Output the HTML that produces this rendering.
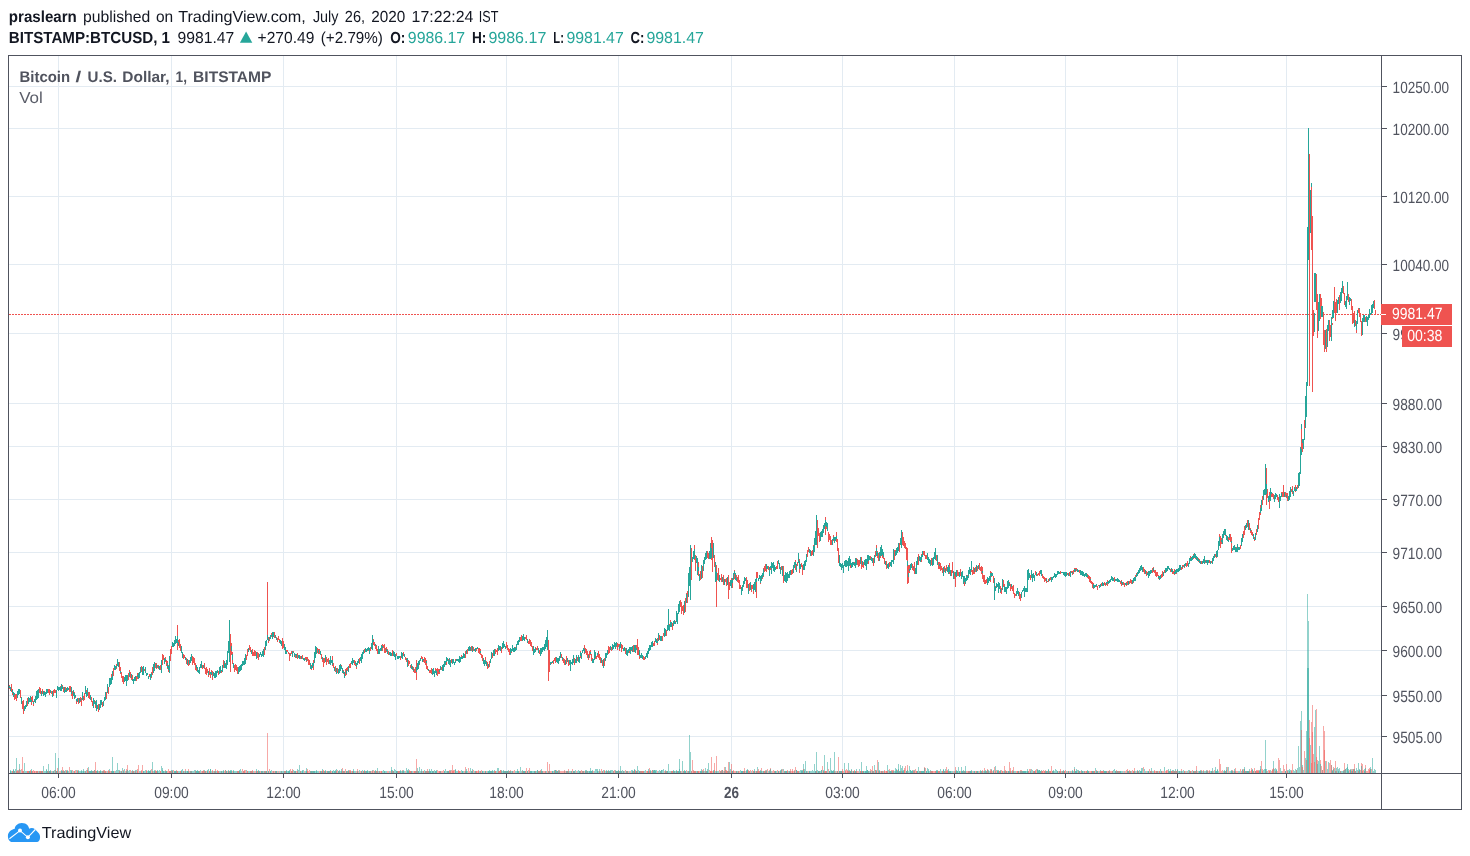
<!DOCTYPE html>
<html><head><meta charset="utf-8"><title>BTCUSD</title>
<style>html,body{margin:0;padding:0;background:#fff}body{width:1470px;height:856px;overflow:hidden}svg{display:block;will-change:transform}text{font-family:"Liberation Sans",sans-serif;text-rendering:geometricPrecision}</style></head><body>
<svg width="1470" height="856" viewBox="0 0 1470 856">
<rect width="1470" height="856" fill="#fff"/>
<path d="M58 55v718M171 55v718M283 55v718M396 55v718M506 55v718M618 55v718M731 55v718M842 55v718M954 55v718M1065 55v718M1177 55v718M1286 55v718M8 86h1373M8 128h1373M8 196h1373M8 264h1373M8 333h1373M8 403h1373M8 446h1373M8 499h1373M8 552h1373M8 606h1373M8 650h1373M8 695h1373M8 736h1373" stroke="#e3ebf2" stroke-width="1" fill="none" shape-rendering="crispEdges" transform="translate(0.5,0.5)"/>
<g shape-rendering="crispEdges" fill="none" stroke-width="1" transform="translate(0.5,0)">
<path d="M10 770v3M11 771v2M13 769v4M15 769v4M16 758v15M18 770v3M19 764v9M20 770v3M23 771v2M24 763v10M25 771v2M26 771v2M29 771v2M31 769v4M36 771v2M38 771v2M39 771v2M43 766v7M44 771v2M45 771v2M46 769v4M48 764v9M49 771v2M50 771v2M52 771v2M54 770v3M55 753v20M56 771v2M58 758v15M61 770v3M63 771v2M65 770v3M67 770v3M68 771v2M70 770v3M71 770v3M73 771v2M76 770v3M78 770v3M79 771v2M80 771v2M81 771v2M82 771v2M83 769v4M84 771v2M85 771v2M86 770v3M88 767v6M89 771v2M90 771v2M91 771v2M93 771v2M96 771v2M97 771v2M98 771v2M99 771v2M100 770v3M101 771v2M102 771v2M105 771v2M107 771v2M109 769v4M112 757v16M113 771v2M115 771v2M116 770v3M117 763v10M118 770v3M119 770v3M120 771v2M121 771v2M122 768v5M124 769v4M128 771v2M129 770v3M131 771v2M132 770v3M133 771v2M134 771v2M135 770v3M136 770v3M139 771v2M140 771v2M143 771v2M144 771v2M145 770v3M147 771v2M148 770v3M149 771v2M150 771v2M152 762v11M153 771v2M154 770v3M155 771v2M157 770v3M158 771v2M159 770v3M161 766v7M162 768v5M163 771v2M164 771v2M166 771v2M170 771v2M171 770v3M172 771v2M174 771v2M175 771v2M178 771v2M179 771v2M181 770v3M182 769v4M183 771v2M184 771v2M186 771v2M187 771v2M192 771v2M193 771v2M194 770v3M195 770v3M196 771v2M197 770v3M198 771v2M199 771v2M200 770v3M202 771v2M204 770v3M207 770v3M208 769v4M210 769v4M211 771v2M213 771v2M214 771v2M216 771v2M219 771v2M220 771v2M222 771v2M223 771v2M225 770v3M226 771v2M228 770v3M229 771v2M230 771v2M231 771v2M233 770v3M234 771v2M235 771v2M236 771v2M237 771v2M239 770v3M240 769v4M241 771v2M243 771v2M246 770v3M248 771v2M249 771v2M250 771v2M251 771v2M253 771v2M256 769v4M258 770v3M261 771v2M263 771v2M264 771v2M265 771v2M266 771v2M268 771v2M270 771v2M271 770v3M273 771v2M276 771v2M278 771v2M280 771v2M282 771v2M283 771v2M284 771v2M285 771v2M286 770v3M287 771v2M288 771v2M289 771v2M291 771v2M293 770v3M295 771v2M297 769v4M298 770v3M299 765v8M300 771v2M301 771v2M302 770v3M303 770v3M305 771v2M306 771v2M311 771v2M313 771v2M314 771v2M315 771v2M316 770v3M317 771v2M318 771v2M320 771v2M322 769v4M325 770v3M328 771v2M330 770v3M332 771v2M333 770v3M334 771v2M335 770v3M336 769v4M338 771v2M340 771v2M341 771v2M344 771v2M346 771v2M347 771v2M348 770v3M351 771v2M353 769v4M354 771v2M355 771v2M359 770v3M362 770v3M364 770v3M365 771v2M366 771v2M367 770v3M368 771v2M372 770v3M374 771v2M375 770v3M376 771v2M377 768v5M378 771v2M379 771v2M382 771v2M383 770v3M384 771v2M385 771v2M386 771v2M389 771v2M391 767v6M392 770v3M394 769v4M395 770v3M396 771v2M399 771v2M400 771v2M401 771v2M403 770v3M404 771v2M406 768v5M407 771v2M408 769v4M412 771v2M415 771v2M417 768v5M418 771v2M419 767v6M420 771v2M422 771v2M424 770v3M426 771v2M427 771v2M428 771v2M429 769v4M430 771v2M431 769v4M432 771v2M434 770v3M435 771v2M436 770v3M444 771v2M445 769v4M446 771v2M448 771v2M450 770v3M455 770v3M456 771v2M457 771v2M461 770v3M462 771v2M463 771v2M466 769v4M467 771v2M470 768v5M472 769v4M474 771v2M479 771v2M480 771v2M482 771v2M483 771v2M485 771v2M487 771v2M488 771v2M489 770v3M490 771v2M492 770v3M493 771v2M494 770v3M496 771v2M497 768v5M498 768v5M502 771v2M503 771v2M505 771v2M507 771v2M509 771v2M511 771v2M515 771v2M516 771v2M517 769v4M518 771v2M520 767v6M521 771v2M522 770v3M523 771v2M524 771v2M525 771v2M527 771v2M529 771v2M530 771v2M531 771v2M532 771v2M533 771v2M534 771v2M535 771v2M536 771v2M537 770v3M538 771v2M539 771v2M540 771v2M541 771v2M545 771v2M546 771v2M548 771v2M552 771v2M553 771v2M554 770v3M555 770v3M557 771v2M558 770v3M564 771v2M568 771v2M569 771v2M570 771v2M573 771v2M575 770v3M577 771v2M578 770v3M579 771v2M580 771v2M582 771v2M585 770v3M588 771v2M589 771v2M590 768v5M591 771v2M594 771v2M595 769v4M596 769v4M597 771v2M598 771v2M599 769v4M600 771v2M602 771v2M603 770v3M605 771v2M606 770v3M607 771v2M608 770v3M610 770v3M611 770v3M612 770v3M613 771v2M616 771v2M618 770v3M619 771v2M620 766v7M622 770v3M624 771v2M629 771v2M631 770v3M632 770v3M633 771v2M634 770v3M636 771v2M637 766v7M638 770v3M639 771v2M640 771v2M641 771v2M643 771v2M644 771v2M645 770v3M648 769v4M650 770v3M652 770v3M653 770v3M654 770v3M655 770v3M656 770v3M658 771v2M659 770v3M661 770v3M662 770v3M663 769v4M666 771v2M667 771v2M668 764v9M669 771v2M670 771v2M671 771v2M673 770v3M675 771v2M676 771v2M677 771v2M678 771v2M679 759v14M682 761v12M683 771v2M684 770v3M685 771v2M687 771v2M688 771v2M689 735v38M690 752v21M691 771v2M694 771v2M696 771v2M700 771v2M701 771v2M702 771v2M704 771v2M705 768v5M707 769v4M708 763v10M713 771v2M715 771v2M717 771v2M718 771v2M720 771v2M721 771v2M725 767v6M727 771v2M729 762v11M730 769v4M732 771v2M737 771v2M738 771v2M740 770v3M741 771v2M742 771v2M746 770v3M747 770v3M749 771v2M751 771v2M753 771v2M754 771v2M757 767v6M759 771v2M760 770v3M762 771v2M768 771v2M771 771v2M774 771v2M775 771v2M776 771v2M778 771v2M780 770v3M783 769v4M784 771v2M785 771v2M786 771v2M788 771v2M790 771v2M796 770v3M797 771v2M799 771v2M800 770v3M801 770v3M802 770v3M803 764v9M804 769v4M805 761v12M807 771v2M809 771v2M810 771v2M811 771v2M812 770v3M813 771v2M814 764v9M815 771v2M816 752v21M817 770v3M818 771v2M820 771v2M821 770v3M823 770v3M824 755v18M826 771v2M827 762v11M829 771v2M830 758v15M831 771v2M832 771v2M833 771v2M834 752v21M835 771v2M839 771v2M841 771v2M844 763v10M848 763v10M849 770v3M850 771v2M853 771v2M855 771v2M856 769v4M859 769v4M861 762v11M863 771v2M864 771v2M865 771v2M866 766v7M867 770v3M869 771v2M873 771v2M874 765v8M876 770v3M878 762v11M879 771v2M883 771v2M887 765v8M888 770v3M890 771v2M894 771v2M895 768v5M896 770v3M898 764v9M900 765v8M901 768v5M902 766v7M903 771v2M906 771v2M908 771v2M909 766v7M910 770v3M911 771v2M912 770v3M913 771v2M914 770v3M917 771v2M918 767v6M920 771v2M921 771v2M922 771v2M923 771v2M926 771v2M927 768v5M928 769v4M929 771v2M930 770v3M931 771v2M936 771v2M937 771v2M939 771v2M940 769v4M941 771v2M943 769v4M945 769v4M948 769v4M950 771v2M951 771v2M952 771v2M954 771v2M956 770v3M957 771v2M958 767v6M959 771v2M961 767v6M962 771v2M965 766v7M968 771v2M969 771v2M970 771v2M971 771v2M973 771v2M974 771v2M976 771v2M977 771v2M978 771v2M980 770v3M983 771v2M985 770v3M987 770v3M989 771v2M991 769v4M993 770v3M995 766v7M997 771v2M998 770v3M1000 770v3M1003 771v2M1008 771v2M1011 771v2M1014 771v2M1015 771v2M1018 771v2M1023 771v2M1024 771v2M1025 771v2M1026 771v2M1027 769v4M1028 771v2M1031 769v4M1032 770v3M1034 771v2M1037 769v4M1038 770v3M1039 770v3M1040 771v2M1041 770v3M1046 771v2M1047 771v2M1048 770v3M1049 771v2M1053 771v2M1054 771v2M1055 769v4M1056 770v3M1057 771v2M1061 771v2M1062 771v2M1063 771v2M1066 771v2M1068 771v2M1070 771v2M1072 770v3M1073 771v2M1074 767v6M1075 771v2M1076 771v2M1077 770v3M1078 770v3M1079 771v2M1082 771v2M1083 771v2M1084 771v2M1087 771v2M1088 771v2M1092 771v2M1095 768v5M1097 771v2M1099 771v2M1100 770v3M1103 770v3M1104 771v2M1105 771v2M1108 771v2M1112 771v2M1113 770v3M1114 769v4M1115 771v2M1116 771v2M1118 771v2M1119 771v2M1120 771v2M1121 771v2M1122 771v2M1124 771v2M1128 771v2M1130 771v2M1131 771v2M1135 771v2M1137 770v3M1138 771v2M1139 770v3M1140 771v2M1141 768v5M1142 768v5M1144 769v4M1145 771v2M1147 771v2M1148 771v2M1150 771v2M1151 768v5M1152 771v2M1153 771v2M1156 771v2M1157 771v2M1158 771v2M1160 769v4M1164 767v6M1169 771v2M1170 769v4M1172 770v3M1173 770v3M1175 769v4M1176 771v2M1178 771v2M1179 771v2M1180 771v2M1182 771v2M1183 770v3M1185 771v2M1187 771v2M1188 770v3M1189 770v3M1191 771v2M1193 771v2M1194 771v2M1195 771v2M1198 771v2M1199 771v2M1200 770v3M1201 771v2M1202 771v2M1203 771v2M1204 771v2M1205 771v2M1209 771v2M1210 771v2M1211 771v2M1212 768v5M1213 771v2M1215 767v6M1216 771v2M1217 769v4M1218 771v2M1223 771v2M1224 770v3M1225 771v2M1226 767v6M1228 767v6M1230 771v2M1231 770v3M1234 769v4M1235 771v2M1238 771v2M1239 771v2M1241 771v2M1244 769v4M1245 771v2M1247 771v2M1248 771v2M1249 769v4M1252 770v3M1253 771v2M1259 771v2M1260 766v7M1263 770v3M1264 769v4M1265 740v33M1266 769v4M1267 771v2M1270 770v3M1273 761v12M1274 769v4M1275 768v5M1276 770v3M1280 768v5M1281 771v2M1285 771v2M1287 770v3M1288 770v3M1289 771v2M1290 770v3M1293 770v3M1294 771v2M1295 769v4M1296 770v3M1297 768v5M1298 746v27M1299 767v6M1300 721v52M1301 711v62M1302 765v8M1303 770v3M1305 758v15M1306 731v42M1307 594v179M1308 621v152M1310 745v28M1314 727v46M1315 710v63M1318 761v12M1319 746v27M1322 770v3M1325 761v12M1327 769v4M1328 762v11M1331 765v8M1332 770v3M1333 769v4M1334 768v5M1336 768v5M1337 767v6M1338 771v2M1339 768v5M1340 771v2M1341 771v2M1342 771v2M1346 768v5M1347 764v9M1348 769v4M1350 770v3M1352 771v2M1355 771v2M1356 768v5M1357 770v3M1358 763v10M1359 770v3M1364 769v4M1370 769v4M1372 758v15M1373 771v2M1374 769v4M1375 770v3" stroke="#26a69a" stroke-opacity=".5"/>
<path d="M12 771v2M14 771v2M17 770v3M21 769v4M22 757v16M27 771v2M28 771v2M30 770v3M32 771v2M33 770v3M34 771v2M35 771v2M37 771v2M40 771v2M41 771v2M42 771v2M47 771v2M51 771v2M53 771v2M57 768v5M59 771v2M60 771v2M62 767v6M64 771v2M66 771v2M69 767v6M72 770v3M74 771v2M75 770v3M77 770v3M87 768v5M92 771v2M94 770v3M95 762v11M103 770v3M104 770v3M106 771v2M108 770v3M110 771v2M111 771v2M114 771v2M123 770v3M125 771v2M126 769v4M127 765v8M130 770v3M137 771v2M138 765v8M141 770v3M142 765v8M146 771v2M151 769v4M156 771v2M160 771v2M165 770v3M167 771v2M168 769v4M169 771v2M173 770v3M176 770v3M177 771v2M180 771v2M185 769v4M188 769v4M189 771v2M190 771v2M191 771v2M201 771v2M203 771v2M205 771v2M206 771v2M209 771v2M212 771v2M215 769v4M217 770v3M218 771v2M221 771v2M224 771v2M227 771v2M232 771v2M238 771v2M242 769v4M244 770v3M245 770v3M247 771v2M252 770v3M254 771v2M255 771v2M257 771v2M259 771v2M260 771v2M262 771v2M267 733v40M269 769v4M272 771v2M274 771v2M275 771v2M277 771v2M279 771v2M281 771v2M290 769v4M292 771v2M294 771v2M296 771v2M304 771v2M307 769v4M308 771v2M309 770v3M310 771v2M312 771v2M319 771v2M321 771v2M323 770v3M324 771v2M326 771v2M327 771v2M329 771v2M331 771v2M337 770v3M339 771v2M342 768v5M343 771v2M345 769v4M349 770v3M350 770v3M352 771v2M356 771v2M357 769v4M358 771v2M360 771v2M361 771v2M363 771v2M369 771v2M370 771v2M371 771v2M373 770v3M380 771v2M381 771v2M387 771v2M388 771v2M390 771v2M393 771v2M397 771v2M398 771v2M402 770v3M405 771v2M409 770v3M410 771v2M411 771v2M413 771v2M414 771v2M416 759v14M421 771v2M423 771v2M425 771v2M433 771v2M437 770v3M438 771v2M439 771v2M440 771v2M441 771v2M442 771v2M443 770v3M447 771v2M449 771v2M451 770v3M452 765v8M453 771v2M454 770v3M458 770v3M459 771v2M460 771v2M464 771v2M465 767v6M468 768v5M469 771v2M471 771v2M473 770v3M475 771v2M476 771v2M477 771v2M478 770v3M481 770v3M484 771v2M486 771v2M491 771v2M495 771v2M499 771v2M500 770v3M501 771v2M504 771v2M506 771v2M508 771v2M510 770v3M512 771v2M513 771v2M514 770v3M519 771v2M526 768v5M528 770v3M542 771v2M543 771v2M544 771v2M547 762v11M549 764v9M550 771v2M551 771v2M556 770v3M559 770v3M560 771v2M561 771v2M562 771v2M563 771v2M565 771v2M566 771v2M567 771v2M571 771v2M572 769v4M574 771v2M576 771v2M581 770v3M583 771v2M584 771v2M586 771v2M587 771v2M592 771v2M593 771v2M601 769v4M604 770v3M609 771v2M614 770v3M615 771v2M617 771v2M621 771v2M623 771v2M625 770v3M626 771v2M627 771v2M628 771v2M630 771v2M635 770v3M642 771v2M646 771v2M647 771v2M649 771v2M651 771v2M657 771v2M660 771v2M664 771v2M665 771v2M672 771v2M674 771v2M680 771v2M681 771v2M686 770v3M692 760v13M693 770v3M695 771v2M697 771v2M698 771v2M699 771v2M703 769v4M706 771v2M709 770v3M710 771v2M711 757v16M712 771v2M714 763v10M716 756v17M719 770v3M722 770v3M723 771v2M724 767v6M726 770v3M728 762v11M731 764v9M733 770v3M734 771v2M735 771v2M736 771v2M739 771v2M743 771v2M744 768v5M745 771v2M748 771v2M750 770v3M752 770v3M755 771v2M756 771v2M758 769v4M761 768v5M763 771v2M764 771v2M765 770v3M766 771v2M767 769v4M769 770v3M770 768v5M772 771v2M773 770v3M777 770v3M779 771v2M781 770v3M782 769v4M787 770v3M789 771v2M791 771v2M792 769v4M793 771v2M794 770v3M795 767v6M798 771v2M806 771v2M808 771v2M819 771v2M822 766v7M825 771v2M828 769v4M836 771v2M837 771v2M838 757v16M840 771v2M842 769v4M843 771v2M845 771v2M846 769v4M847 770v3M851 770v3M852 771v2M854 771v2M857 771v2M858 771v2M860 771v2M862 771v2M868 771v2M870 769v4M871 770v3M872 766v7M875 770v3M877 760v13M880 771v2M881 771v2M882 771v2M884 770v3M885 771v2M886 771v2M889 769v4M891 770v3M892 771v2M893 770v3M897 770v3M899 771v2M904 768v5M905 766v7M907 765v8M915 769v4M916 771v2M919 771v2M924 767v6M925 768v5M932 771v2M933 771v2M934 771v2M935 771v2M938 771v2M942 771v2M944 771v2M946 767v6M947 770v3M949 771v2M953 771v2M955 767v6M960 771v2M963 771v2M964 771v2M966 771v2M967 771v2M972 771v2M975 771v2M979 771v2M981 771v2M982 770v3M984 768v5M986 771v2M988 771v2M990 769v4M992 771v2M994 767v6M996 770v3M999 771v2M1001 770v3M1002 771v2M1004 766v7M1005 771v2M1006 771v2M1007 771v2M1009 762v11M1010 768v5M1012 770v3M1013 767v6M1016 771v2M1017 771v2M1019 771v2M1020 770v3M1021 770v3M1022 771v2M1029 769v4M1030 769v4M1033 771v2M1035 771v2M1036 769v4M1042 771v2M1043 770v3M1044 771v2M1045 770v3M1050 771v2M1051 766v7M1052 771v2M1058 771v2M1059 771v2M1060 771v2M1064 771v2M1065 770v3M1067 771v2M1069 771v2M1071 771v2M1080 771v2M1081 771v2M1085 771v2M1086 771v2M1089 771v2M1090 771v2M1091 771v2M1093 771v2M1094 771v2M1096 770v3M1098 771v2M1101 771v2M1102 771v2M1106 771v2M1107 771v2M1109 770v3M1110 771v2M1111 771v2M1117 771v2M1123 771v2M1125 771v2M1126 770v3M1127 769v4M1129 770v3M1132 770v3M1133 771v2M1134 768v5M1136 771v2M1143 767v6M1146 771v2M1149 769v4M1154 770v3M1155 771v2M1159 771v2M1161 771v2M1162 771v2M1163 771v2M1165 771v2M1166 770v3M1167 770v3M1168 771v2M1171 771v2M1174 771v2M1177 770v3M1181 769v4M1184 771v2M1186 771v2M1190 771v2M1192 770v3M1196 766v7M1197 771v2M1206 771v2M1207 770v3M1208 771v2M1214 770v3M1219 759v14M1220 764v9M1221 771v2M1222 770v3M1227 767v6M1229 771v2M1232 770v3M1233 771v2M1236 771v2M1237 771v2M1240 769v4M1242 770v3M1243 769v4M1246 771v2M1250 771v2M1251 768v5M1254 768v5M1255 771v2M1256 770v3M1257 770v3M1258 770v3M1261 761v12M1262 771v2M1268 770v3M1269 771v2M1271 771v2M1272 770v3M1277 771v2M1278 758v15M1279 760v13M1282 771v2M1283 765v8M1284 769v4M1286 764v9M1291 770v3M1292 764v9M1304 751v22M1309 720v53M1311 722v51M1312 705v68M1313 754v19M1316 709v64M1317 760v13M1320 760v13M1321 766v7M1323 726v47M1324 731v42M1326 761v12M1329 763v10M1330 760v13M1335 761v12M1343 770v3M1344 763v10M1345 769v4M1349 770v3M1351 769v4M1353 769v4M1354 764v9M1360 770v3M1361 763v10M1362 771v2M1363 770v3M1365 765v8M1366 771v2M1367 771v2M1368 769v4M1369 768v5M1371 769v4" stroke="#ef5350" stroke-opacity=".5"/>
<path d="M10 771v2M13 770v3M14 771v2M29 771v2M31 771v2M41 771v2M46 770v3M47 771v2M49 771v2M50 770v3M53 771v2M56 771v2M61 771v2M62 771v2M64 771v2M67 771v2M71 771v2M78 771v2M81 770v3M83 771v2M89 771v2M90 771v2M91 770v3M92 771v2M94 770v3M97 770v3M100 771v2M103 771v2M111 771v2M112 771v2M113 771v2M123 771v2M126 771v2M127 770v3M143 771v2M148 771v2M149 771v2M150 770v3M154 771v2M157 771v2M162 770v3M163 771v2M165 771v2M166 771v2M172 770v3M174 771v2M175 771v2M176 771v2M181 771v2M185 771v2M187 771v2M188 771v2M190 771v2M191 771v2M196 771v2M197 771v2M198 771v2M205 771v2M207 771v2M210 769v4M215 771v2M221 771v2M223 770v3M226 771v2M228 771v2M230 770v3M231 770v3M233 771v2M239 771v2M256 771v2M258 771v2M259 771v2M261 771v2M262 771v2M266 771v2M268 771v2M270 771v2M275 771v2M276 771v2M281 771v2M286 771v2M288 771v2M289 770v3M294 771v2M295 771v2M302 771v2M306 768v5M310 771v2M311 771v2M312 771v2M313 771v2M314 771v2M316 771v2M320 771v2M322 771v2M324 771v2M325 771v2M327 771v2M328 771v2M329 771v2M332 771v2M334 771v2M335 771v2M338 771v2M339 770v3M341 769v4M343 771v2M346 771v2M348 771v2M353 771v2M357 771v2M361 771v2M364 771v2M366 771v2M367 771v2M369 771v2M370 771v2M375 771v2M384 771v2M391 770v3M393 771v2M396 771v2M397 771v2M400 770v3M402 771v2M403 771v2M407 770v3M408 771v2M411 771v2M416 771v2M418 771v2M421 769v4M425 771v2M429 771v2M430 771v2M432 771v2M433 771v2M435 771v2M436 771v2M440 771v2M444 771v2M447 771v2M448 771v2M455 769v4M462 771v2M465 771v2M466 771v2M471 771v2M472 771v2M475 771v2M482 771v2M485 771v2M488 771v2M489 771v2M490 771v2M491 771v2M492 771v2M501 770v3M503 770v3M504 771v2M505 771v2M506 771v2M507 771v2M508 770v3M510 771v2M512 771v2M517 771v2M518 771v2M523 771v2M524 771v2M527 771v2M530 771v2M531 771v2M534 771v2M537 770v3M541 769v4M542 771v2M549 771v2M552 771v2M555 770v3M556 771v2M557 771v2M559 771v2M566 771v2M567 771v2M571 771v2M573 771v2M574 771v2M579 771v2M583 771v2M585 771v2M586 770v3M587 771v2M589 771v2M590 771v2M591 771v2M592 770v3M597 769v4M606 771v2M608 771v2M609 771v2M610 771v2M615 770v3M616 771v2M617 771v2M618 771v2M620 771v2M621 771v2M623 771v2M626 771v2M627 771v2M632 771v2M634 769v4M636 771v2M639 771v2M648 771v2M650 771v2M653 771v2M654 770v3M655 771v2M660 771v2M661 770v3M665 770v3M667 771v2M673 771v2M674 771v2M676 770v3M678 771v2M679 769v4M680 771v2M684 771v2M685 771v2M689 771v2M697 771v2M700 771v2M701 769v4M703 771v2M706 771v2M707 771v2M713 770v3M716 771v2M722 770v3M724 771v2M728 771v2M732 771v2M736 771v2M741 771v2M742 771v2M744 771v2M746 771v2M747 769v4M754 769v4M756 771v2M760 771v2M761 771v2M763 771v2M765 771v2M766 770v3M769 771v2M770 769v4M775 771v2M778 771v2M780 771v2M781 769v4M785 771v2M786 771v2M789 771v2M794 771v2M796 770v3M801 771v2M802 771v2M804 771v2M806 771v2M809 771v2M815 771v2M818 771v2M819 771v2M821 770v3M823 771v2M829 771v2M831 770v3M832 771v2M833 770v3M837 771v2M839 771v2M840 771v2M841 771v2M850 771v2M851 769v4M853 771v2M855 771v2M861 771v2M863 771v2M865 771v2M866 771v2M867 770v3M868 771v2M870 771v2M872 771v2M876 771v2M879 770v3M881 771v2M889 771v2M890 771v2M891 771v2M893 771v2M895 771v2M896 769v4M897 771v2M898 769v4M899 771v2M900 771v2M902 771v2M903 770v3M906 771v2M907 770v3M910 770v3M911 771v2M912 771v2M917 771v2M919 771v2M921 771v2M922 771v2M923 771v2M924 768v5M926 771v2M928 771v2M936 770v3M937 770v3M943 770v3M944 771v2M948 771v2M949 771v2M950 771v2M956 771v2M957 771v2M959 771v2M961 771v2M962 771v2M963 770v3M964 771v2M965 771v2M970 771v2M971 770v3M974 771v2M977 771v2M980 771v2M981 771v2M984 771v2M985 771v2M986 771v2M988 770v3M993 771v2M997 770v3M998 771v2M1000 771v2M1004 771v2M1006 771v2M1008 771v2M1009 771v2M1013 771v2M1018 771v2M1020 771v2M1021 771v2M1022 771v2M1023 771v2M1024 771v2M1025 771v2M1027 771v2M1030 771v2M1034 771v2M1037 770v3M1038 771v2M1039 770v3M1040 771v2M1045 771v2M1046 771v2M1048 769v4M1052 771v2M1053 770v3M1057 771v2M1059 771v2M1063 770v3M1068 771v2M1072 771v2M1075 771v2M1076 769v4M1079 771v2M1081 770v3M1082 771v2M1087 770v3M1088 771v2M1092 771v2M1093 771v2M1096 771v2M1097 771v2M1104 771v2M1105 771v2M1106 771v2M1109 771v2M1115 771v2M1117 771v2M1120 771v2M1127 771v2M1128 771v2M1134 771v2M1137 771v2M1140 771v2M1141 771v2M1148 771v2M1161 771v2M1168 769v4M1169 771v2M1170 771v2M1174 771v2M1177 769v4M1179 771v2M1181 771v2M1193 771v2M1196 770v3M1199 771v2M1200 771v2M1206 770v3M1207 771v2M1211 771v2M1215 771v2M1216 771v2M1217 770v3M1224 771v2M1226 770v3M1231 771v2M1232 771v2M1234 771v2M1242 769v4M1244 767v6M1246 771v2M1247 771v2M1248 771v2M1252 769v4M1255 771v2M1259 770v3M1260 769v4M1265 769v4M1276 769v4M1285 771v2M1289 769v4M1307 668v105M1308 668v105M1317 764v9M1320 764v9M1332 771v2M1335 771v2M1338 769v4M1343 771v2M1344 770v3M1345 769v4M1347 767v6M1348 771v2M1350 769v4M1352 769v4M1354 769v4M1359 769v4M1361 766v7M1364 771v2M1365 768v5M1370 767v6" stroke="#26a69a" stroke-opacity=".5"/>
<path d="M12 771v2M16 771v2M17 771v2M18 771v2M19 769v4M22 771v2M23 771v2M27 771v2M28 771v2M30 771v2M32 771v2M34 771v2M36 771v2M37 771v2M39 771v2M40 771v2M42 771v2M48 771v2M55 770v3M57 771v2M63 770v3M66 770v3M74 771v2M77 771v2M85 771v2M87 770v3M88 771v2M93 771v2M95 771v2M96 771v2M99 771v2M102 771v2M104 771v2M105 771v2M108 771v2M109 771v2M119 771v2M121 771v2M132 771v2M133 771v2M135 771v2M137 769v4M141 771v2M146 770v3M152 771v2M155 770v3M156 771v2M160 771v2M169 771v2M170 771v2M171 771v2M177 771v2M180 771v2M183 771v2M195 771v2M199 771v2M202 771v2M203 770v3M204 771v2M209 771v2M212 770v3M214 771v2M217 771v2M218 771v2M225 770v3M229 771v2M237 771v2M238 771v2M243 771v2M244 771v2M247 771v2M250 771v2M251 771v2M252 771v2M257 771v2M264 771v2M265 771v2M273 771v2M284 771v2M285 771v2M291 771v2M292 769v4M297 771v2M300 771v2M307 771v2M321 771v2M323 771v2M330 771v2M336 771v2M342 771v2M344 771v2M347 771v2M349 771v2M350 771v2M352 771v2M363 771v2M365 771v2M372 771v2M374 771v2M376 771v2M377 771v2M379 771v2M381 771v2M392 771v2M398 771v2M399 771v2M409 771v2M410 771v2M414 771v2M415 771v2M417 771v2M423 771v2M426 771v2M427 769v4M428 771v2M439 771v2M449 770v3M450 771v2M452 771v2M453 770v3M458 771v2M459 771v2M476 771v2M478 771v2M480 771v2M494 771v2M495 771v2M498 771v2M499 771v2M500 770v3M509 771v2M522 771v2M525 771v2M529 768v5M535 771v2M538 771v2M539 771v2M540 770v3M545 771v2M548 771v2M554 771v2M558 771v2M564 770v3M568 769v4M580 771v2M582 771v2M599 771v2M602 771v2M604 771v2M607 771v2M613 771v2M619 771v2M633 771v2M635 771v2M637 771v2M640 771v2M641 771v2M642 771v2M643 771v2M647 771v2M649 768v5M652 770v3M666 771v2M671 771v2M672 771v2M677 771v2M683 771v2M688 771v2M691 771v2M693 771v2M694 771v2M695 771v2M698 771v2M702 770v3M705 771v2M710 771v2M711 771v2M714 770v3M720 771v2M721 770v3M725 770v3M726 771v2M727 771v2M729 771v2M731 771v2M733 771v2M738 771v2M743 771v2M748 770v3M749 771v2M753 771v2M757 771v2M758 771v2M759 771v2M764 771v2M774 771v2M784 771v2M787 771v2M790 769v4M792 771v2M797 771v2M798 771v2M803 769v4M816 771v2M824 771v2M825 771v2M826 771v2M834 771v2M842 771v2M845 770v3M847 771v2M848 771v2M849 771v2M854 770v3M856 771v2M860 771v2M862 771v2M873 771v2M875 770v3M878 771v2M882 771v2M884 771v2M886 771v2M887 771v2M892 770v3M901 771v2M904 770v3M913 770v3M914 771v2M916 771v2M920 771v2M930 771v2M931 771v2M932 771v2M935 771v2M938 771v2M939 771v2M942 771v2M945 771v2M946 771v2M947 771v2M955 771v2M968 771v2M969 771v2M976 771v2M982 771v2M987 769v4M990 771v2M991 770v3M995 771v2M999 771v2M1002 771v2M1005 770v3M1010 771v2M1012 771v2M1017 771v2M1028 771v2M1033 771v2M1035 770v3M1041 771v2M1042 771v2M1044 771v2M1047 771v2M1049 771v2M1050 771v2M1060 769v4M1062 771v2M1064 771v2M1074 769v4M1078 771v2M1084 771v2M1086 771v2M1091 771v2M1094 771v2M1100 771v2M1101 771v2M1102 771v2M1103 771v2M1108 771v2M1112 771v2M1116 770v3M1118 771v2M1119 771v2M1129 771v2M1130 771v2M1133 771v2M1138 771v2M1150 771v2M1151 771v2M1154 771v2M1156 771v2M1157 771v2M1159 771v2M1166 771v2M1171 771v2M1172 771v2M1173 771v2M1175 771v2M1176 771v2M1184 771v2M1189 771v2M1190 771v2M1194 771v2M1195 771v2M1201 770v3M1203 770v3M1209 770v3M1212 771v2M1225 771v2M1235 768v5M1243 771v2M1245 771v2M1249 771v2M1251 770v3M1253 771v2M1256 771v2M1257 771v2M1258 771v2M1262 769v4M1266 771v2M1269 770v3M1272 769v4M1273 768v5M1275 771v2M1287 771v2M1291 771v2M1296 770v3M1301 730v43M1302 767v6M1306 760v13M1309 738v35M1311 763v10M1312 732v41M1314 762v11M1316 757v16M1322 770v3M1324 750v23M1331 765v8M1333 767v6M1336 771v2M1340 771v2M1351 771v2M1353 769v4M1355 771v2M1358 771v2M1362 764v9M1369 770v3" stroke="#ef5350" stroke-opacity=".5"/>
</g>
<path d="M9 314.5H1381" stroke="#ef5350" stroke-width="1" stroke-dasharray="1.5 1.5" fill="none" shape-rendering="crispEdges"/>
<g shape-rendering="crispEdges" fill="none" stroke-width="1" transform="translate(0.5,0)">
<path d="M9 685v4M10 688v3M11 684v8M11 687v1M12 689v6M13 692v4M14 693v7M15 694v5M16 694v7M20 690v8M22 701v8M23 706v8M23 700v12M27 698v8M29 699v2M31 697v8M32 696v6M33 701v5M36 695v3M38 692v3M39 687v6M40 688v6M40 689v4M42 690v4M42 689v4M44 691v3M48 689v4M48 689v2M49 689v6M51 691v3M53 690v6M53 691v3M54 689v4M54 692v1M55 690v3M56 692v3M59 687v3M60 686v5M62 685v3M63 687v5M65 687v5M67 687v4M68 688v1M69 686v6M70 686v6M70 688v2M71 688v8M72 691v8M74 692v7M75 695v3M76 699v5M78 699v5M78 698v6M79 700v2M80 697v5M81 698v8M82 695v2M83 696v5M84 693v7M86 690v5M87 688v7M88 692v6M89 692v7M91 697v5M92 701v5M93 701v4M95 701v7M96 704v5M98 704v8M98 707v3M100 703v4M101 700v2M102 702v5M102 703v3M106 692v7M106 694v2M107 687v3M108 687v7M109 682v3M111 674v7M113 668v8M116 664v5M119 662v9M120 667v7M121 672v6M121 673v4M122 676v6M123 676v8M125 677v4M128 673v7M129 670v7M130 672v6M131 674v6M132 675v6M136 676v5M136 677v4M137 673v6M141 666v6M143 668v4M144 669v2M149 674v3M151 672v6M152 667v8M155 663v5M156 663v6M157 665v3M158 665v4M159 667v3M160 665v5M161 664v4M162 654v11M163 655v5M165 657v5M166 660v6M167 661v8M168 665v7M169 663v5M170 649v12M171 646v8M177 625v25M178 640v6M179 639v9M180 644v7M181 647v6M182 652v4M183 654v5M184 655v3M186 658v6M188 660v6M188 660v2M189 661v4M192 656v9M192 659v2M193 657v6M194 658v7M195 663v7M196 665v6M202 665v4M204 663v6M204 663v4M205 668v6M205 668v5M206 667v8M207 669v4M208 671v6M209 668v7M209 670v5M210 672v6M211 670v5M212 671v9M217 671v1M218 671v4M218 671v3M219 670v2M220 669v1M221 670v3M223 663v5M223 660v7M225 663v5M226 664v3M227 654v5M230 635v13M230 634v38M231 643v12M232 652v12M234 665v7M235 664v6M236 665v6M237 667v7M242 662v3M243 662v1M245 659v1M246 655v5M247 649v7M249 645v5M250 647v5M252 649v7M253 652v4M254 650v6M255 651v5M257 652v6M258 653v7M264 647v8M264 650v2M267 582v58M268 637v6M269 637v4M271 633v4M274 632v6M276 637v2M277 638v4M277 638v4M278 636v4M278 637v3M279 639v4M282 638v11M283 642v5M283 641v7M286 650v3M287 650v2M288 652v2M289 653v4M289 653v8M290 653v3M291 651v3M292 654v2M293 651v2M295 654v4M296 655v2M297 653v6M297 656v2M300 656v3M302 655v4M305 657v3M306 657v5M307 657v4M308 659v6M308 660v2M309 660v5M310 664v4M311 665v5M313 660v10M317 648v5M318 649v5M319 649v5M321 654v5M322 657v5M323 658v9M324 658v5M326 657v8M326 661v1M327 659v3M328 658v6M330 658v5M332 656v10M333 663v5M335 666v6M335 668v3M337 668v5M341 665v4M342 668v3M343 670v4M344 673v3M345 669v7M346 668v7M347 667v4M348 666v4M349 664v4M350 663v5M353 660v3M354 660v5M355 661v5M356 663v6M359 658v6M360 658v3M362 653v3M364 649v4M365 650v2M368 647v4M370 647v4M373 639v6M374 642v4M375 645v4M376 645v6M377 649v5M382 644v7M383 645v3M384 644v9M385 648v5M386 647v5M387 649v5M388 651v4M392 650v6M395 654v4M396 653v3M400 656v4M402 654v2M403 652v4M405 657v3M406 658v4M408 660v6M409 661v3M410 665v3M411 664v3M412 666v4M413 667v5M414 669v4M414 669v2M415 667v6M415 668v4M416 660v20M419 660v5M421 656v3M422 657v4M423 659v3M424 657v6M425 658v7M425 660v1M426 660v9M427 666v4M427 667v2M429 670v3M430 671v2M430 670v1M431 668v6M431 668v5M435 668v4M436 669v5M437 670v6M437 668v7M438 669v5M439 669v5M441 667v3M446 658v7M448 659v3M451 660v2M451 659v4M455 659v4M459 658v3M461 655v4M465 651v7M467 649v5M470 648v2M471 646v5M471 647v4M473 647v4M476 648v3M478 648v5M478 650v2M479 649v5M479 648v6M480 649v6M481 654v4M482 655v6M484 660v4M485 657v7M486 661v3M487 662v7M488 665v3M489 661v6M489 663v2M492 653v5M494 652v2M495 650v4M495 649v4M496 650v2M497 649v2M497 648v7M501 647v6M506 642v6M506 643v5M507 645v5M508 648v4M509 649v6M509 649v2M510 650v3M511 650v3M515 647v4M518 641v3M520 637v4M521 635v6M523 634v4M525 637v2M526 635v5M528 641v3M529 640v4M529 639v4M530 640v6M531 642v5M532 646v5M535 647v5M536 648v2M537 646v4M537 648v2M539 650v4M539 651v3M541 649v2M547 635v14M548 647v17M548 640v41M549 660v4M549 650v22M551 662v2M553 660v4M554 658v3M555 657v6M556 659v3M561 654v4M562 657v4M563 658v5M564 659v6M566 656v8M568 660v6M568 662v1M569 660v5M570 661v5M571 662v2M572 661v1M574 658v7M574 661v2M577 657v4M580 651v7M584 645v9M585 648v5M586 649v6M587 651v7M587 653v4M588 654v6M589 651v7M590 650v5M591 654v7M592 658v4M593 659v4M595 654v5M596 656v3M597 653v4M598 651v7M598 654v2M599 655v5M599 654v4M600 657v6M602 660v6M604 658v5M604 659v7M608 646v8M609 647v6M609 649v2M611 647v4M616 643v4M617 643v7M618 644v3M619 644v7M621 644v8M622 645v4M622 646v1M625 648v6M629 648v5M630 649v2M631 648v3M633 645v6M633 649v3M634 647v3M636 645v4M637 646v7M637 639v16M638 647v8M638 649v3M639 650v9M640 657v1M643 656v4M644 657v3M645 658v1M653 643v3M654 641v5M657 638v7M658 636v2M659 635v5M662 636v5M662 637v2M663 633v3M666 630v6M669 624v5M670 620v6M672 623v7M675 621v3M679 602v4M680 600v7M681 602v12M682 606v5M683 605v7M683 608v7M685 598v14M686 593v4M687 591v12M689 578v2M691 555v4M691 548v32M694 545v15M695 555v16M696 557v4M697 561v8M698 562v14M699 575v4M700 571v9M702 566v12M702 568v9M705 553v3M707 551v7M708 553v6M711 537v23M712 549v9M712 540v32M713 549v4M714 555v12M715 566v13M716 565v42M717 573v6M717 574v6M718 568v13M720 578v2M721 574v8M723 575v10M725 579v3M726 578v8M727 579v5M728 581v7M728 575v24M729 582v8M731 578v10M732 582v6M733 574v6M734 570v9M736 575v5M737 577v5M738 575v8M739 580v9M740 585v4M746 577v11M747 580v8M749 583v8M751 585v7M752 585v4M753 587v7M754 584v4M756 572v26M757 572v6M760 577v7M762 574v5M763 568v9M764 566v6M764 567v3M765 564v7M766 566v6M768 566v4M768 566v3M770 566v4M776 566v3M777 561v8M781 566v4M783 570v8M783 566v17M789 571v3M791 570v4M791 571v4M792 569v5M795 560v10M797 562v4M799 559v14M801 563v4M802 566v6M802 565v10M803 564v3M804 562v5M807 550v7M807 553v4M808 547v5M811 551v5M812 550v5M813 545v11M815 537v3M817 529v7M817 528v9M817 520v28M818 528v7M818 529v7M819 533v9M825 517v18M826 522v7M828 532v10M829 534v6M830 536v9M831 540v4M831 542v3M833 535v6M836 532v10M837 539v12M837 545v2M838 549v11M838 548v15M839 558v7M847 562v3M849 559v6M850 563v5M853 562v3M854 562v3M856 558v7M857 559v5M857 560v5M858 560v7M859 560v6M861 557v12M862 563v4M863 562v6M868 555v9M870 556v4M873 558v8M875 551v6M876 545v8M877 551v7M878 553v8M879 556v2M880 548v10M882 551v7M883 552v7M884 558v6M886 561v8M889 562v5M889 562v4M894 550v10M894 555v4M895 550v6M899 543v9M901 535v6M901 537v2M902 534v8M902 537v3M902 532v13M903 537v9M903 538v4M904 541v7M905 543v6M906 547v13M906 551v4M907 555v19M907 548v36M908 574v3M908 565v18M909 565v8M912 564v6M913 566v5M914 562v12M914 568v3M918 554v11M921 554v8M923 551v3M923 552v3M924 551v5M925 555v4M926 555v4M931 558v7M936 555v6M938 562v7M939 562v7M940 563v8M940 566v5M941 566v4M942 568v5M944 566v6M945 568v4M946 565v6M949 563v11M951 570v6M952 564v9M952 562v9M954 572v7M954 574v5M955 572v15M957 570v6M958 572v4M960 569v7M960 570v4M964 576v10M967 575v4M971 570v2M972 570v5M973 567v7M974 568v6M975 567v5M977 566v5M979 563v7M980 567v4M981 566v8M981 569v3M982 567v12M983 575v7M984 579v5M984 575v9M985 580v4M986 579v4M989 576v5M990 571v11M991 572v5M993 576v7M993 578v4M994 580v11M994 583v6M995 586v5M998 582v9M1000 586v7M1001 588v6M1003 583v4M1003 580v5M1004 584v7M1009 582v4M1010 584v7M1011 585v4M1012 586v5M1013 585v9M1014 593v5M1014 594v4M1015 594v2M1016 592v3M1019 592v7M1020 594v7M1030 575v5M1035 571v4M1037 574v2M1038 573v2M1039 571v5M1040 571v2M1041 572v3M1042 574v4M1043 576v3M1044 577v5M1045 578v3M1046 578v5M1048 579v3M1050 577v3M1053 576v1M1060 571v3M1064 572v4M1065 572v2M1066 572v4M1067 573v2M1068 573v2M1069 572v4M1069 573v2M1070 573v1M1071 571v2M1072 571v4M1073 570v4M1073 571v2M1074 568v4M1075 568v4M1076 568v3M1079 571v2M1079 570v2M1081 572v3M1087 574v4M1088 575v4M1089 576v6M1090 577v6M1091 581v3M1092 582v6M1093 583v6M1094 586v2M1096 584v3M1097 586v4M1098 585v1M1100 585v2M1101 583v3M1104 582v3M1105 583v3M1106 582v2M1107 580v6M1110 580v2M1111 576v3M1113 578v3M1114 577v5M1114 578v3M1120 581v3M1121 580v6M1122 582v3M1123 582v2M1123 582v3M1124 583v4M1125 583v2M1126 582v4M1127 581v4M1128 581v4M1129 581v3M1130 579v4M1130 580v2M1131 580v4M1133 579v4M1135 575v6M1136 573v3M1140 568v1M1143 567v5M1144 569v5M1144 569v2M1146 571v5M1147 572v3M1150 571v2M1152 568v5M1153 567v5M1154 570v3M1155 570v6M1156 572v5M1157 572v4M1158 575v4M1161 574v4M1162 571v6M1164 570v3M1168 566v3M1170 569v3M1171 568v3M1172 569v5M1173 571v3M1174 569v6M1176 570v4M1181 567v3M1182 565v4M1183 565v2M1184 566v2M1186 563v4M1187 561v5M1190 556v5M1193 554v5M1195 555v4M1196 556v4M1198 558v4M1199 559v4M1201 561v3M1202 562v2M1205 560v3M1209 560v3M1211 561v2M1214 555v2M1215 554v3M1216 552v6M1217 553v4M1219 534v12M1220 537v6M1220 536v12M1221 538v6M1225 529v7M1226 535v5M1228 537v5M1229 536v4M1230 534v8M1231 537v13M1231 538v15M1236 547v4M1237 548v3M1237 547v2M1240 545v4M1243 531v7M1244 526v9M1247 520v7M1247 521v3M1248 523v5M1249 523v7M1250 528v5M1251 530v5M1252 532v4M1254 537v4M1256 529v6M1257 529v2M1258 518v11M1259 512v8M1260 505v10M1262 496v9M1262 500v1M1266 468v37M1267 489v9M1269 492v17M1271 492v5M1272 493v4M1272 494v2M1273 494v5M1275 494v4M1277 495v5M1277 497v2M1278 497v5M1279 499v5M1281 492v2M1282 492v4M1282 495v2M1283 492v5M1283 492v5M1283 485v9M1285 492v5M1286 493v5M1287 493v8M1291 489v3M1292 488v5M1292 486v8M1294 488v3M1295 485v7M1296 489v2M1297 485v4M1301 429v20M1302 443v9M1304 420v9M1309 154v232M1311 187v63M1312 216v176M1313 310v26M1316 274v36M1317 294v44M1320 294v25M1321 298v8M1323 312v33M1324 330v22M1326 329v23M1329 320v21M1330 325v12M1332 318v1M1332 323v2M1334 287v26M1335 302v19M1336 299v14M1339 295v15M1343 286v8M1344 293v12M1348 294v8M1351 299v11M1352 306v18M1353 313v10M1354 311v9M1355 320v6M1356 330v3M1358 308v5M1359 309v8M1360 313v9M1361 321v15M1365 317v5M1374 300v9M1375 310v4" stroke="#ef5350"/>
<path d="M9 686v2M10 687v4M12 690v3M13 692v5M14 693v2M17 691v7M18 689v6M19 689v5M21 697v7M24 706v5M25 705v4M25 707v1M26 701v6M28 697v7M28 700v4M29 698v4M30 696v6M30 697v3M31 700v2M33 702v2M34 699v3M35 696v7M36 691v9M37 690v9M37 693v2M38 689v9M41 691v5M43 692v4M43 691v3M44 692v3M45 692v5M45 693v2M46 689v5M47 689v4M50 690v3M52 691v6M56 690v8M57 686v4M58 687v3M58 688v3M59 687v3M60 687v4M61 684v5M61 684v7M62 686v3M64 687v5M64 689v4M65 690v2M66 688v4M67 687v3M68 688v2M71 687v7M73 690v6M73 692v3M74 693v6M75 695v2M76 699v2M77 698v4M79 698v5M80 699v2M82 692v8M83 698v1M85 686v8M86 692v5M87 688v8M90 695v5M93 698v10M94 700v4M94 701v3M95 702v3M96 702v6M96 700v11M97 705v4M99 704v6M100 700v8M101 700v5M103 701v5M104 697v4M105 692v8M107 684v9M109 678v9M110 678v7M111 677v7M112 671v9M114 665v5M114 666v4M115 666v4M116 666v2M117 659v7M118 662v5M120 671v2M124 677v5M125 675v6M126 675v11M126 678v1M127 675v6M129 672v5M131 674v4M132 679v2M133 679v5M134 677v4M135 676v5M137 675v2M138 673v6M138 676v2M139 672v6M139 675v2M140 667v6M142 667v8M142 670v3M143 666v9M145 667v6M146 673v3M147 673v2M148 676v3M150 675v4M150 674v6M151 673v4M153 664v9M154 662v9M156 664v4M158 666v2M159 666v4M161 660v13M164 658v6M164 659v3M165 659v2M167 663v5M168 666v4M169 656v17M172 642v5M172 643v2M173 643v4M174 640v6M174 642v2M175 638v6M175 636v6M176 639v4M177 636v7M178 642v4M181 646v7M182 652v6M185 657v3M187 659v6M187 661v3M189 660v4M190 657v5M190 657v6M191 654v7M191 655v5M196 665v3M197 667v5M198 670v3M199 667v7M199 669v3M200 664v4M200 664v4M201 661v7M201 661v7M203 665v3M208 671v4M210 672v2M211 672v3M212 676v1M213 672v4M214 673v3M214 673v5M215 671v7M216 671v6M217 670v3M219 667v7M220 666v7M221 670v1M222 665v7M224 661v7M224 663v2M225 664v4M226 660v9M227 651v14M228 641v12M229 631v12M229 620v42M231 646v5M232 654v6M233 663v5M233 663v4M238 667v7M239 666v6M240 666v3M240 665v6M241 664v6M242 661v5M243 661v4M244 659v5M244 658v7M245 654v10M248 648v4M251 650v4M256 652v7M259 654v3M260 652v3M261 654v3M262 651v5M263 649v8M265 641v9M266 640v6M267 635v5M268 639v2M269 637v2M270 635v4M271 635v1M272 632v7M273 632v5M275 635v3M275 636v2M276 638v2M279 640v2M280 640v4M280 642v2M281 641v5M281 642v1M284 644v6M285 647v7M286 651v3M290 654v1M292 651v6M293 652v1M294 654v3M294 653v3M295 654v1M296 654v4M298 655v3M299 655v4M301 656v3M303 658v2M304 658v3M306 659v2M310 663v6M311 666v3M312 663v5M313 663v3M314 652v11M315 646v12M316 647v7M318 650v3M320 651v4M320 651v2M322 657v3M325 655v7M325 655v5M329 660v4M329 661v3M330 656v9M331 660v3M331 660v1M332 660v5M334 667v4M336 668v6M338 669v5M339 665v8M339 668v1M340 664v7M341 666v3M342 668v5M343 671v2M344 672v6M346 670v4M348 666v6M351 661v3M351 662v2M352 658v7M353 660v3M355 662v2M356 663v4M357 661v3M357 662v3M358 659v4M360 657v4M361 654v9M362 652v7M363 650v4M365 648v4M366 649v3M366 650v2M367 648v3M368 647v3M369 648v4M369 650v4M371 644v5M371 643v3M372 643v4M372 635v15M373 640v2M375 644v2M378 646v8M378 648v4M379 649v5M379 651v3M380 648v3M381 645v5M381 646v5M382 646v2M386 649v2M387 650v4M389 652v3M389 652v3M390 652v3M390 653v3M391 653v3M393 651v4M393 653v3M394 652v5M395 654v6M397 656v3M398 656v3M399 656v2M401 654v4M401 652v4M402 653v6M404 655v2M404 654v2M406 659v1M407 658v9M411 664v5M412 667v2M413 669v2M416 668v4M416 667v5M417 663v7M418 661v8M419 660v4M420 658v3M422 659v3M423 659v1M426 661v2M428 669v2M428 669v1M432 669v6M433 668v6M433 670v1M434 671v4M434 671v6M435 670v3M436 671v4M439 670v2M440 666v4M440 668v1M442 665v6M442 665v2M443 664v7M443 666v1M444 661v6M445 661v4M446 657v5M447 658v3M448 660v4M449 658v7M450 660v7M452 659v5M453 659v4M454 662v3M455 661v2M456 659v2M457 659v2M458 659v3M459 656v7M460 657v4M460 657v5M461 657v2M462 656v3M463 653v5M464 654v4M466 650v4M466 650v4M468 647v4M468 648v3M469 647v4M469 646v3M470 647v4M472 646v4M472 650v2M474 649v2M475 648v3M475 648v4M476 648v1M477 647v2M480 651v2M483 658v6M484 660v6M485 660v4M486 662v4M488 664v3M490 659v4M491 652v7M491 655v1M493 651v5M493 650v5M494 649v7M498 645v6M499 647v3M499 646v4M500 647v3M500 646v5M502 643v6M503 641v7M503 644v1M504 644v3M504 644v3M505 646v3M510 648v7M511 649v3M512 645v6M513 648v4M514 647v5M515 648v3M516 644v6M517 641v4M518 640v5M519 637v5M522 636v5M522 637v4M523 634v6M524 637v4M527 639v4M533 647v6M533 646v9M534 649v3M534 650v3M535 648v4M538 648v5M540 648v8M541 648v6M542 647v5M543 647v3M544 645v6M544 644v7M545 640v9M546 637v10M547 630v20M550 662v3M551 662v1M552 661v2M552 661v2M556 657v5M557 659v4M557 658v3M558 658v6M558 659v3M559 656v5M560 652v5M560 653v5M562 657v3M565 661v4M565 660v5M567 658v4M567 659v1M569 660v4M570 660v4M570 660v11M571 662v2M572 659v6M573 655v8M575 659v4M576 655v8M576 658v2M578 655v7M579 657v6M580 652v4M581 653v6M581 655v3M582 650v3M583 649v2M583 648v1M584 649v4M588 655v3M590 652v2M592 659v4M593 659v4M594 654v3M594 650v10M595 652v6M597 653v2M601 658v5M603 659v9M605 653v8M605 657v3M606 653v5M607 650v5M610 647v3M610 646v3M612 644v6M613 645v4M614 642v5M614 642v4M615 643v6M616 642v4M619 645v4M620 642v6M623 648v3M623 649v2M624 647v4M626 648v7M626 649v2M627 650v6M627 650v2M628 649v4M629 647v4M630 647v7M631 647v3M632 646v6M634 645v7M635 647v3M635 645v8M636 648v2M639 650v6M640 655v3M641 653v5M642 655v4M642 656v2M645 656v3M646 653v4M647 651v7M647 654v2M648 648v6M648 650v2M649 645v6M650 645v5M651 642v5M652 641v6M655 640v2M655 638v4M656 639v4M657 641v2M658 633v8M660 636v4M660 636v5M661 636v4M661 639v2M664 629v8M664 628v3M665 629v6M665 630v6M667 625v6M668 626v4M668 627v3M668 609v21M669 625v6M670 622v5M671 622v5M673 621v5M674 620v4M675 622v2M676 615v7M676 611v8M677 613v11M678 604v10M679 601v11M684 601v12M684 601v10M686 594v9M688 573v24M689 567v19M690 556v17M690 558v9M690 545v55M692 557v5M693 551v8M694 549v10M696 556v7M697 558v17M698 567v4M699 574v7M701 567v12M701 565v9M703 561v10M703 560v10M704 557v7M704 560v4M705 553v7M706 551v8M709 551v8M710 543v16M711 548v10M713 543v15M715 562v20M716 572v9M716 575v3M719 575v7M722 577v5M724 579v6M727 577v8M730 580v6M731 580v8M732 578v5M733 573v6M734 571v3M735 573v7M736 578v3M741 587v5M741 589v6M742 585v6M743 581v6M744 577v7M744 579v2M745 578v3M748 584v10M748 586v7M750 582v8M750 586v2M753 584v7M754 582v8M755 579v13M756 578v4M758 578v3M759 575v4M760 576v7M761 575v6M762 573v5M763 569v7M766 564v5M767 566v3M769 567v9M769 570v3M770 566v2M771 562v12M772 563v5M773 562v7M773 564v7M774 565v7M775 567v3M778 560v4M779 563v6M779 565v2M780 567v7M782 566v10M782 568v5M784 575v6M784 577v2M785 576v6M785 572v7M786 576v5M786 573v10M787 572v9M788 574v4M789 571v7M790 570v5M793 565v6M793 569v4M794 562v6M795 562v3M796 564v8M798 553v10M798 553v7M799 561v8M800 564v5M800 566v3M803 564v6M804 561v9M805 560v6M806 554v8M809 549v4M810 550v6M813 546v10M814 538v14M815 531v14M816 526v10M816 530v2M816 515v30M820 532v9M821 531v6M822 529v8M822 533v3M823 525v8M824 523v6M825 520v6M825 522v2M826 522v5M827 523v8M832 539v6M833 537v3M834 537v6M834 537v5M835 537v4M836 536v3M839 555v11M840 563v4M841 564v6M842 563v5M843 565v8M844 561v5M845 561v6M845 560v5M846 560v7M846 562v3M847 561v5M848 561v6M848 558v13M849 556v10M850 559v6M851 563v5M852 562v5M853 562v3M854 563v3M855 558v10M855 563v2M856 559v6M860 557v7M862 561v4M864 560v5M865 559v7M866 559v11M867 555v9M868 555v6M869 556v4M869 558v2M870 559v1M871 558v3M871 557v3M872 558v5M872 561v2M874 555v8M876 548v8M877 552v4M879 552v9M880 547v9M881 551v5M881 545v11M882 549v6M883 552v5M885 561v4M887 564v2M887 565v3M888 563v6M890 562v4M891 560v7M892 560v2M893 549v15M895 551v5M896 548v7M897 547v6M898 543v8M900 538v7M900 540v3M901 530v18M907 561v5M908 573v4M909 569v2M910 564v6M910 565v4M911 563v5M913 567v1M915 569v5M915 568v2M916 561v13M917 557v8M919 556v5M919 556v4M920 558v4M920 557v3M921 555v5M922 551v5M922 554v3M927 553v7M928 558v5M928 557v6M929 559v5M930 560v6M932 559v6M932 558v8M933 557v8M933 559v2M934 552v7M935 548v12M935 554v6M937 555v10M937 560v2M939 564v2M943 569v7M943 567v8M945 569v4M947 567v5M948 565v9M949 567v5M950 570v6M950 572v1M953 571v8M955 572v4M956 570v7M959 573v4M959 572v3M961 572v7M962 571v6M963 576v8M964 576v6M965 579v5M965 578v4M966 575v6M967 576v4M968 570v8M969 567v7M970 569v6M971 561v9M974 568v4M976 565v6M976 570v2M978 565v4M982 571v2M987 577v8M987 578v3M988 578v5M989 576v5M990 573v7M991 573v3M992 573v3M994 578v22M995 587v4M996 583v5M997 584v3M998 582v11M999 583v6M1000 589v3M1002 584v6M1002 579v11M1004 586v6M1005 588v4M1005 587v3M1006 587v7M1007 581v8M1008 580v8M1009 583v3M1011 584v3M1016 591v5M1017 588v6M1017 588v2M1018 591v5M1021 592v5M1021 595v3M1022 590v2M1023 588v3M1024 586v11M1024 591v3M1025 588v4M1026 588v4M1027 570v22M1027 579v3M1028 569v11M1029 573v5M1031 572v6M1031 570v7M1032 574v8M1033 573v5M1034 575v2M1034 575v6M1036 572v4M1040 570v4M1041 570v6M1046 579v2M1047 581v1M1049 578v3M1051 577v5M1051 579v2M1052 577v3M1052 577v2M1053 576v2M1054 573v4M1054 574v1M1055 574v4M1056 574v3M1057 571v4M1057 572v2M1058 571v3M1059 572v2M1059 572v2M1061 572v1M1062 572v1M1063 572v3M1064 572v4M1065 572v5M1066 572v4M1068 573v3M1070 571v6M1072 572v2M1074 569v3M1075 569v2M1077 569v3M1077 570v2M1078 570v2M1078 570v2M1080 570v5M1081 571v4M1082 571v5M1082 572v4M1083 572v4M1084 574v3M1084 574v3M1085 573v3M1085 573v2M1086 573v4M1086 574v2M1087 575v2M1090 579v1M1093 584v4M1094 585v3M1095 585v1M1095 585v2M1096 584v2M1099 585v3M1099 586v2M1100 584v3M1102 582v4M1102 583v2M1103 583v3M1103 583v3M1106 582v3M1107 582v1M1108 581v3M1109 580v3M1110 579v3M1111 576v4M1112 577v4M1113 578v3M1115 579v2M1116 579v2M1116 580v1M1117 578v4M1118 579v3M1119 580v2M1121 581v2M1122 582v3M1125 583v2M1126 583v2M1128 581v4M1132 580v4M1133 578v4M1134 577v4M1134 578v3M1135 577v4M1136 574v3M1137 572v4M1137 572v2M1138 570v4M1138 572v1M1139 568v5M1140 566v5M1141 565v5M1142 567v3M1142 569v3M1145 570v4M1147 573v2M1148 571v7M1149 571v5M1150 570v4M1151 570v3M1153 568v3M1158 576v2M1159 576v4M1160 575v4M1160 576v1M1163 572v4M1163 573v3M1165 568v5M1166 568v4M1167 566v5M1167 568v2M1168 566v3M1169 568v2M1171 568v4M1172 570v2M1174 572v2M1175 570v4M1175 571v3M1176 569v4M1177 569v3M1178 568v4M1179 566v4M1179 565v6M1180 565v5M1182 566v2M1184 564v3M1185 563v3M1188 563v4M1189 558v6M1189 559v2M1190 558v3M1191 557v4M1192 556v4M1193 555v3M1194 553v4M1194 554v4M1195 554v4M1196 556v4M1197 557v4M1198 559v2M1199 560v3M1200 561v3M1202 561v3M1203 560v3M1203 559v4M1204 559v5M1204 556v6M1205 561v1M1206 560v3M1206 560v2M1207 560v5M1208 560v3M1208 560v2M1210 561v3M1212 558v6M1213 556v5M1213 558v2M1214 554v4M1216 551v6M1217 550v7M1218 541v9M1219 537v9M1221 540v2M1222 534v10M1223 531v7M1224 529v6M1224 531v4M1225 529v6M1226 535v5M1227 536v3M1227 536v5M1228 540v2M1229 534v4M1231 541v2M1232 548v3M1233 546v4M1234 545v5M1235 548v2M1235 547v5M1236 548v4M1237 544v8M1238 547v3M1239 547v3M1241 538v8M1242 534v8M1245 525v5M1246 523v5M1246 523v4M1248 520v10M1250 529v2M1253 534v5M1254 539v1M1255 533v7M1257 525v7M1260 508v5M1261 500v11M1263 490v10M1264 489v6M1264 490v2M1265 485v5M1265 464v31M1266 484v10M1268 496v6M1269 495v5M1270 488v13M1271 492v2M1274 495v7M1274 497v3M1275 493v6M1276 494v3M1276 495v1M1279 502v3M1279 494v14M1280 496v5M1281 493v4M1284 492v5M1284 492v3M1286 495v2M1288 496v5M1289 491v9M1289 491v9M1290 487v10M1292 490v2M1293 492v2M1293 491v5M1294 487v4M1295 489v2M1296 487v4M1298 473v15M1299 472v14M1300 447v27M1301 424v5M1301 449v6M1302 439v4M1303 439v10M1304 429v11M1305 396v32M1306 382v35M1307 227v159M1308 128v132M1310 190v43M1311 183v4M1314 273v29M1314 313v19M1315 273v29M1318 302v29M1319 294v27M1321 306v11M1322 306v11M1325 330v19M1327 325v22M1328 320v11M1331 317v24M1332 310v8M1333 301v17M1337 300v13M1338 297v7M1340 292v11M1341 288v13M1342 281v12M1345 301v6M1346 296v13M1347 282v18M1349 297v8M1350 298v3M1354 320v7M1356 321v9M1357 310v14M1359 308v1M1362 318v17M1363 315v7M1364 315v7M1366 316v6M1367 317v9M1368 315v5M1369 309v9M1370 313v2M1371 305v9M1372 304v9M1373 301v7" stroke="#26a69a"/>
</g>
<g shape-rendering="crispEdges" fill="none" stroke="#50535e" stroke-width="1">
<rect x="8.5" y="55.5" width="1453" height="754"/>
<path d="M1381.5 55V809M8 773.5H1461"/>
<path d="M1382 86.5h5M1382 128.5h5M1382 196.5h5M1382 264.5h5M1382 333.5h5M1382 403.5h5M1382 446.5h5M1382 499.5h5M1382 552.5h5M1382 606.5h5M1382 650.5h5M1382 695.5h5M1382 736.5h5M58.5 774v4M171.5 774v4M283.5 774v4M396.5 774v4M506.5 774v4M618.5 774v4M731.5 774v4M842.5 774v4M954.5 774v4M1065.5 774v4M1177.5 774v4M1286.5 774v4"/>
</g>
<text x="1392.6" y="92.9" font-size="16.2" fill="#50535e" textLength="56.5" lengthAdjust="spacingAndGlyphs">10250.00</text>
<text x="1392.6" y="134.9" font-size="16.2" fill="#50535e" textLength="56.5" lengthAdjust="spacingAndGlyphs">10200.00</text>
<text x="1392.6" y="202.9" font-size="16.2" fill="#50535e" textLength="56.5" lengthAdjust="spacingAndGlyphs">10120.00</text>
<text x="1392.6" y="270.9" font-size="16.2" fill="#50535e" textLength="56.5" lengthAdjust="spacingAndGlyphs">10040.00</text>
<text x="1392.6" y="339.9" font-size="16.2" fill="#50535e" textLength="49.5" lengthAdjust="spacingAndGlyphs">9960.00</text>
<text x="1392.6" y="409.9" font-size="16.2" fill="#50535e" textLength="49.5" lengthAdjust="spacingAndGlyphs">9880.00</text>
<text x="1392.6" y="452.9" font-size="16.2" fill="#50535e" textLength="49.5" lengthAdjust="spacingAndGlyphs">9830.00</text>
<text x="1392.6" y="505.9" font-size="16.2" fill="#50535e" textLength="49.5" lengthAdjust="spacingAndGlyphs">9770.00</text>
<text x="1392.6" y="558.9" font-size="16.2" fill="#50535e" textLength="49.5" lengthAdjust="spacingAndGlyphs">9710.00</text>
<text x="1392.6" y="612.9" font-size="16.2" fill="#50535e" textLength="49.5" lengthAdjust="spacingAndGlyphs">9650.00</text>
<text x="1392.6" y="656.9" font-size="16.2" fill="#50535e" textLength="49.5" lengthAdjust="spacingAndGlyphs">9600.00</text>
<text x="1392.6" y="701.9" font-size="16.2" fill="#50535e" textLength="49.5" lengthAdjust="spacingAndGlyphs">9550.00</text>
<text x="1392.6" y="742.9" font-size="16.2" fill="#50535e" textLength="49.5" lengthAdjust="spacingAndGlyphs">9505.00</text>
<text x="41.2" y="797.7" font-size="16.2" fill="#50535e" textLength="34.6" lengthAdjust="spacingAndGlyphs">06:00</text>
<text x="154.2" y="797.7" font-size="16.2" fill="#50535e" textLength="34.6" lengthAdjust="spacingAndGlyphs">09:00</text>
<text x="266.2" y="797.7" font-size="16.2" fill="#50535e" textLength="34.6" lengthAdjust="spacingAndGlyphs">12:00</text>
<text x="379.2" y="797.7" font-size="16.2" fill="#50535e" textLength="34.6" lengthAdjust="spacingAndGlyphs">15:00</text>
<text x="489.2" y="797.7" font-size="16.2" fill="#50535e" textLength="34.6" lengthAdjust="spacingAndGlyphs">18:00</text>
<text x="601.2" y="797.7" font-size="16.2" fill="#50535e" textLength="34.6" lengthAdjust="spacingAndGlyphs">21:00</text>
<text x="724.0" y="797.7" font-size="16.2" fill="#50535e" font-weight="bold" textLength="15" lengthAdjust="spacingAndGlyphs">26</text>
<text x="825.2" y="797.7" font-size="16.2" fill="#50535e" textLength="34.6" lengthAdjust="spacingAndGlyphs">03:00</text>
<text x="937.2" y="797.7" font-size="16.2" fill="#50535e" textLength="34.6" lengthAdjust="spacingAndGlyphs">06:00</text>
<text x="1048.2" y="797.7" font-size="16.2" fill="#50535e" textLength="34.6" lengthAdjust="spacingAndGlyphs">09:00</text>
<text x="1160.2" y="797.7" font-size="16.2" fill="#50535e" textLength="34.6" lengthAdjust="spacingAndGlyphs">12:00</text>
<text x="1269.2" y="797.7" font-size="16.2" fill="#50535e" textLength="34.6" lengthAdjust="spacingAndGlyphs">15:00</text>
<rect x="1381" y="304" width="71" height="21" fill="#ef5350"/>
<rect x="1381" y="314" width="5" height="1" fill="#fff"/>
<text x="1392" y="318.9" font-size="16.2" fill="#fff" textLength="50.4" lengthAdjust="spacingAndGlyphs">9981.47</text>
<rect x="1402" y="325" width="50" height="1" fill="#fff"/>
<rect x="1402" y="326" width="50" height="21" fill="#ef5350"/>
<text x="1407.2" y="341.4" font-size="16.2" fill="#fff" textLength="35.2" lengthAdjust="spacingAndGlyphs">00:38</text>
<text x="19.5" y="81.8" font-size="15.4" fill="#50535e" font-weight="bold" textLength="50.6" lengthAdjust="spacingAndGlyphs">Bitcoin</text>
<text x="75.6" y="81.8" font-size="15.4" fill="#50535e" font-weight="bold" textLength="5.7" lengthAdjust="spacingAndGlyphs">/</text>
<text x="87.6" y="81.8" font-size="15.4" fill="#50535e" font-weight="bold" textLength="29.4" lengthAdjust="spacingAndGlyphs">U.S.</text>
<text x="122.3" y="81.8" font-size="15.4" fill="#50535e" font-weight="bold" textLength="47.2" lengthAdjust="spacingAndGlyphs">Dollar,</text>
<text x="175.6" y="81.8" font-size="15.4" fill="#50535e" font-weight="bold" textLength="11.4" lengthAdjust="spacingAndGlyphs">1,</text>
<text x="193.1" y="81.8" font-size="15.4" fill="#50535e" font-weight="bold" textLength="78.3" lengthAdjust="spacingAndGlyphs">BITSTAMP</text>
<text x="19.2" y="102.8" font-size="16" fill="#5a5d68" textLength="23.6" lengthAdjust="spacingAndGlyphs">Vol</text>
<text x="8.8" y="22.1" font-size="16" fill="#131722" font-weight="bold" textLength="68" lengthAdjust="spacingAndGlyphs">praslearn</text>
<text x="83" y="22.1" font-size="16" fill="#131722" textLength="67.3" lengthAdjust="spacingAndGlyphs">published</text>
<text x="156" y="22.1" font-size="16" fill="#131722" textLength="17.2" lengthAdjust="spacingAndGlyphs">on</text>
<text x="178.2" y="22.1" font-size="16" fill="#131722" textLength="127.6" lengthAdjust="spacingAndGlyphs">TradingView.com,</text>
<text x="312.9" y="22.1" font-size="16" fill="#131722" textLength="25.6" lengthAdjust="spacingAndGlyphs">July</text>
<text x="344.8" y="22.1" font-size="16" fill="#131722" textLength="20.2" lengthAdjust="spacingAndGlyphs">26,</text>
<text x="371.3" y="22.1" font-size="16" fill="#131722" textLength="34" lengthAdjust="spacingAndGlyphs">2020</text>
<text x="411.6" y="22.1" font-size="16" fill="#131722" textLength="61.7" lengthAdjust="spacingAndGlyphs">17:22:24</text>
<text x="478.8" y="22.1" font-size="16" fill="#131722" textLength="19.6" lengthAdjust="spacingAndGlyphs">IST</text>
<text x="8.8" y="43.3" font-size="16" fill="#131722" font-weight="bold" textLength="161.2" lengthAdjust="spacingAndGlyphs">BITSTAMP:BTCUSD, 1</text>
<text x="177.6" y="43.3" font-size="16" fill="#131722" textLength="56.7" lengthAdjust="spacingAndGlyphs">9981.47</text>
<path d="M246.1 31.4L252.3 42.7H239.9Z" fill="#26a69a"/>
<text x="257.6" y="43.3" font-size="16" fill="#131722" textLength="56.7" lengthAdjust="spacingAndGlyphs">+270.49</text>
<text x="320.8" y="43.3" font-size="16" fill="#131722" textLength="62.1" lengthAdjust="spacingAndGlyphs">(+2.79%)</text>
<text x="390.2" y="43.3" font-size="16" fill="#131722" font-weight="bold" textLength="15.1" lengthAdjust="spacingAndGlyphs">O:</text>
<text x="407.8" y="43.3" font-size="16" fill="#26a69a" textLength="57.4" lengthAdjust="spacingAndGlyphs">9986.17</text>
<text x="472" y="43.3" font-size="16" fill="#131722" font-weight="bold" textLength="14.4" lengthAdjust="spacingAndGlyphs">H:</text>
<text x="488.4" y="43.3" font-size="16" fill="#26a69a" textLength="57.9" lengthAdjust="spacingAndGlyphs">9986.17</text>
<text x="553.3" y="43.3" font-size="16" fill="#131722" font-weight="bold" textLength="10.6" lengthAdjust="spacingAndGlyphs">L:</text>
<text x="566.4" y="43.3" font-size="16" fill="#26a69a" textLength="57.4" lengthAdjust="spacingAndGlyphs">9981.47</text>
<text x="630.6" y="43.3" font-size="16" fill="#131722" font-weight="bold" textLength="13.8" lengthAdjust="spacingAndGlyphs">C:</text>
<text x="646.4" y="43.3" font-size="16" fill="#26a69a" textLength="57.6" lengthAdjust="spacingAndGlyphs">9981.47</text>
<path d="M11.9 842L37 842C38.5 842 40.1 840.5 40.1 837C40.1 834.5 38.2 832.5 36.7 831.1C35.5 829.5 34.2 828 31.8 828C30.6 828 29.8 828.3 29.2 828.8C28.8 826.5 27.2 822.9 21.7 822.9C17.5 822.9 14.8 826 14.8 828.8C12.5 829.3 7.9 831.5 7.9 836C7.9 839.5 9.8 842 11.9 842Z" fill="#2797f4"/>
<path d="M9.4 838.8L20 830.6L27.9 837.3L35.3 829.5" stroke="#fff" stroke-width="1.1" fill="none"/>
<circle cx="20" cy="830.6" r="2" fill="#fff"/><circle cx="27.9" cy="837.3" r="2" fill="#fff"/>
<text x="41.8" y="837.9" font-size="16" fill="#131722" textLength="89.4" lengthAdjust="spacingAndGlyphs">TradingView</text>
</svg></body></html>
